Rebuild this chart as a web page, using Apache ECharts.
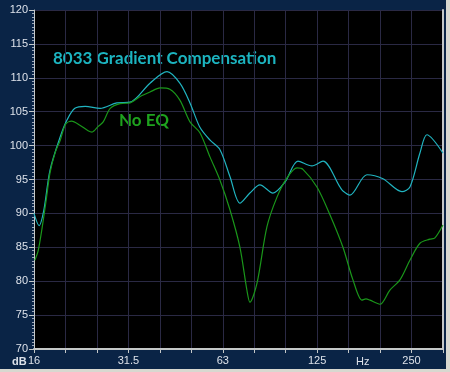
<!DOCTYPE html>
<html><head><meta charset="utf-8">
<script src="https://cdn.jsdelivr.net/npm/echarts@6/dist/echarts.min.js"></script>
<style>html,body{margin:0;padding:0;background:#d8d8d0;}#c{width:450px;height:372px;}</style>
</head><body><div id="c"></div>
<script>
// Frequency (Hz) and level (dB) data
const gradFreq = [16.0,16.6,17.2,18.0,19.4,20.4,21.6,23.3,26.0,29.4,32.4,37.5,42.5,46.7,50.3,54.1,58.3,62.7,67.5,72.6,78.1,84.1,92.5,101,111.2,123.2,133.6,151.3,154.7,162.9,184.5,207.5,238.6,253,272.3,286.6,322.5];
const gradDb   = [90.0,88.2,90.5,96.4,101.3,103.8,105.5,105.8,105.5,106.3,106.4,109.2,110.9,109.2,106.3,102.7,100.8,99.4,95.4,91.5,93.0,94.2,93.0,94.6,97.7,97.0,97.7,93.9,93.3,92.7,95.7,95.1,93.2,93.9,98.9,101.6,98.9];
const noEqFreq = [16.1,16.5,17.0,17.5,18.0,18.7,19.4,20.2,21.1,22.4,23.8,24.5,25.6,26.6,28.0,30.1,32.4,34.8,37.5,40.4,43.4,46.7,50.3,54.1,58.3,62.7,67.5,72.6,76.4,78.1,82.3,88.5,95.3,102.5,110.4,115.3,127.8,140.6,154.7,166.5,177.9,183.2,188.6,203.0,218.4,235.1,253.0,272.3,293.0,304.0,322.4];
const noEqDb   = [83.1,84.5,88.0,92.0,96.0,99.0,100.8,103.2,103.6,103.0,102.2,102.0,102.8,103.5,105.5,106.2,106.3,107.2,107.9,108.5,108.3,106.7,103.5,101.9,98.3,94.9,90.5,85.0,78.7,76.9,79.7,88.0,92.4,95.2,96.7,96.5,93.9,89.8,85.0,80.2,77.2,77.4,77.2,76.6,78.7,80.2,83.1,85.6,86.2,86.4,88.3];
// Third-octave tick positions (index from 16 Hz) and their labels
const xTickIdx = [0,3,6,9,12];
const xTickLabels = ['16','31.5','63','125','250'];
const yMin = 70, yMax = 120, yStep = 5;
const fMin = 16, fMax = 16*Math.pow(2,13/3);

const chart = echarts.init(document.getElementById('c'));
const gridCol = '#2a2944';
const axCol = '#c4c8c8';
const labelMap = {};
xTickIdx.forEach((v,i)=>labelMap[v]=xTickLabels[i]);

chart.setOption({
  backgroundColor: '#0a2446',
  animation: false,
  grid: {left:34, top:10, width:409, height:339, show:true, backgroundColor:'#000', borderWidth:0},
  xAxis: [
    {type:'log', logBase:2, min:fMin, max:fMax, show:false},
    {type:'value', min:0, max:13, interval:1, position:'bottom',
     axisLine:{show:true, lineStyle:{color:axCol, width:2}},
     axisTick:{show:true, length:4, lineStyle:{color:axCol}},
     splitLine:{show:true, lineStyle:{color:gridCol, width:1}},
     axisLabel:{color:'#dde2ea', fontSize:11, fontFamily:'Liberation Sans, Arial', margin:6,
       formatter:v=>labelMap[Math.round(v)]!==undefined && Math.abs(v-Math.round(v))<1e-6 ? labelMap[Math.round(v)] : ''}}
  ],
  yAxis: [
    {type:'value', min:yMin, max:yMax, interval:yStep,
     axisLine:{show:true, lineStyle:{color:axCol}},
     axisTick:{show:true, length:5, lineStyle:{color:axCol}},
     minorTick:{show:true, splitNumber:10, length:2, lineStyle:{color:'#9aa6b8'}},
     splitLine:{show:true, lineStyle:{color:gridCol, width:1}},
     axisLabel:{color:'#dde2ea', fontSize:11, fontFamily:'Liberation Sans, Arial', margin:6}},
    {type:'value', min:yMin, max:yMax, position:'right',
     axisLine:{show:true, lineStyle:{color:axCol, width:2}},
     axisTick:{show:false}, axisLabel:{show:false}, splitLine:{show:false}}
  ],
  graphic: [
    {type:'text', left:12, top:356, style:{text:'dB', fill:'#dde2ea', font:'bold 11px "Liberation Sans", Arial'}},
    {type:'text', left:356, top:356, style:{text:'Hz', fill:'#dde2ea', font:'11px "Liberation Sans", Arial'}},
    {type:'text', left:53, top:50, style:{text:'8033 Gradient Compensation', fill:'#1cb4c0', font:'bold 17px Lato'}},
    {type:'text', left:119, top:112, style:{text:'No EQ', fill:'#1ea21e', font:'bold 17px Lato'}},
    {type:'rect', shape:{x:446, y:0, width:4, height:372}, style:{fill:'#d8d8d0'}},
    {type:'rect', shape:{x:0, y:369, width:450, height:3}, style:{fill:'#d8d8d0'}}
  ],
  series: [
    {type:'line', xAxisIndex:0, yAxisIndex:0, smooth:0.3, showSymbol:false,
     lineStyle:{color:'#20b4c0', width:1.2},
     data: gradFreq.map((f,i)=>[f, gradDb[i]])},
    {type:'line', xAxisIndex:0, yAxisIndex:0, smooth:0.3, showSymbol:false,
     lineStyle:{color:'#1a961a', width:1.2},
     data: noEqFreq.map((f,i)=>[f, noEqDb[i]])}
  ]
});
</script></body></html>
